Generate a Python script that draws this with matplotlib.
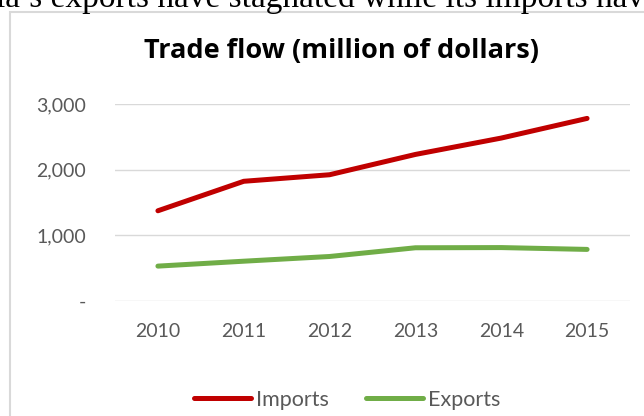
import matplotlib
matplotlib.use("Agg")
import matplotlib.pyplot as plt
from matplotlib.patches import Rectangle
from matplotlib.ticker import FuncFormatter

years = ["2010", "2011", "2012", "2013", "2014", "2015"]
imports = [1370, 1820, 1920, 2230, 2480, 2780]
exports = [525, 600, 672, 805, 808, 780]
y_ticks = [0, 1000, 2000, 3000]

RED = "#C00000"
GREEN = "#70AD47"
GRAY_TEXT = "#595959"
GRID = "#D9D9D9"
FONT = ["Lato", "DejaVu Sans"]

W, H = 644, 416
fig = plt.figure(figsize=(W / 100, H / 100), dpi=100)

def fx(px):
    return px / W

def fy(py):
    return 1 - py / H

# headline sentence above the chart frame
fig.text(fx(-4), fy(7), "ia\u2019s exports have stagnated while its imports have",
         family=["Liberation Serif", "DejaVu Serif"], fontsize=24, color="black",
         ha="left", va="baseline")

# chart frame
fig.patches.append(Rectangle((fx(9.5), fy(430)), fx(700), fy(12) - fy(430),
                             transform=fig.transFigure, fill=False,
                             edgecolor=GRID, linewidth=1.5))

ax = fig.add_axes([fx(115), fy(300.5), fx(630) - fx(115), fy(104) - fy(300.5)])
x = list(range(len(years)))
ax.plot(x, imports, color=RED, linewidth=3.6, solid_capstyle="round",
        solid_joinstyle="round", label="Imports", zorder=3)
ax.plot(x, exports, color=GREEN, linewidth=3.6, solid_capstyle="round",
        solid_joinstyle="round", label="Exports", zorder=3)

ax.set_xlim(-0.5, len(years) - 0.5)
ax.set_ylim(0, 3000)
ax.set_yticks(y_ticks)
ax.yaxis.set_major_formatter(FuncFormatter(lambda v, p: "-" if v == 0 else f"{v:,.0f}"))
ax.set_xticks(x)
ax.set_xticklabels(years)
ax.grid(axis="y", color=GRID, linewidth=1.0)
ax.set_axisbelow(True)
for s in ax.spines.values():
    s.set_visible(False)
ax.tick_params(length=0, colors=GRAY_TEXT, labelsize=14)
ax.tick_params(axis="y", pad=21)
ax.tick_params(axis="x", pad=16)
for lbl in ax.get_xticklabels() + ax.get_yticklabels():
    lbl.set_family(FONT)

fig.text(fx(341), fy(51), "Trade flow (million of dollars)",
         family=["Open Sans", "DejaVu Sans"], fontsize=19.5, fontweight="bold",
         color="black", ha="center", va="center")

leg = fig.legend(loc="center", bbox_to_anchor=(fx(347), fy(400)), ncol=2,
                 frameon=False, prop={"family": FONT, "size": 15.5},
                 handlelength=2.65, handletextpad=0.25, columnspacing=1.7)
for t in leg.get_texts():
    t.set_color(GRAY_TEXT)

fig.savefig("out.png", dpi=100)
